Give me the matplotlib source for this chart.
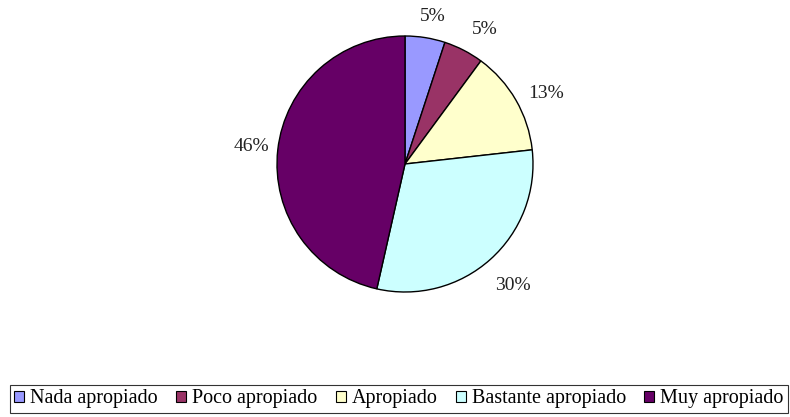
import matplotlib.pyplot as plt
from matplotlib.patches import Patch

# Valoración de lo apropiado (porcentajes)
categorias = ["Nada apropiado", "Poco apropiado", "Apropiado",
              "Bastante apropiado", "Muy apropiado"]
porcentajes = [5, 5, 13, 30, 46]
colores = ["#9999FF", "#993366", "#FFFFCC", "#CCFFFF", "#660066"]

# posición de cada etiqueta (unidades del radio)
pos_etiquetas = [(0.22, 1.15), (0.62, 1.05), (1.10, 0.55),
                 (0.84, -0.95), (-1.20, 0.14)]

plt.rcParams['font.family'] = ['Liberation Serif', 'DejaVu Serif']

fig = plt.figure(figsize=(7.9, 4.17), dpi=100)
r = 128
ax = fig.add_axes([(405 - r) / 790, 1 - (164 + r) / 417, 2 * r / 790, 2 * r / 417])
ax.pie(porcentajes, colors=colores, startangle=90, counterclock=False,
       radius=1, wedgeprops=dict(edgecolor="black", linewidth=1.0))
ax.set_xlim(-1, 1)
ax.set_ylim(-1, 1)
ax.set_aspect("equal")

for p, (x, y) in zip(porcentajes, pos_etiquetas):
    ax.text(x, y, f"{p}%", ha="center", va="center", fontsize=14,
            color="#222222", clip_on=False)

handles = [Patch(facecolor=c, edgecolor="black", linewidth=0.8) for c in colores]
leg = fig.legend(handles, categorias, ncol=5, loc="center",
                 bbox_to_anchor=(399 / 790, 1 - 399 / 417), frameon=True,
                 fancybox=False, edgecolor="black", fontsize=14.5,
                 handlelength=0.5, handleheight=0.5, handletextpad=0.3,
                 columnspacing=0.9, borderpad=0.2, borderaxespad=0)
leg.get_frame().set_linewidth(0.8)

fig.savefig("out.png", dpi=100)
